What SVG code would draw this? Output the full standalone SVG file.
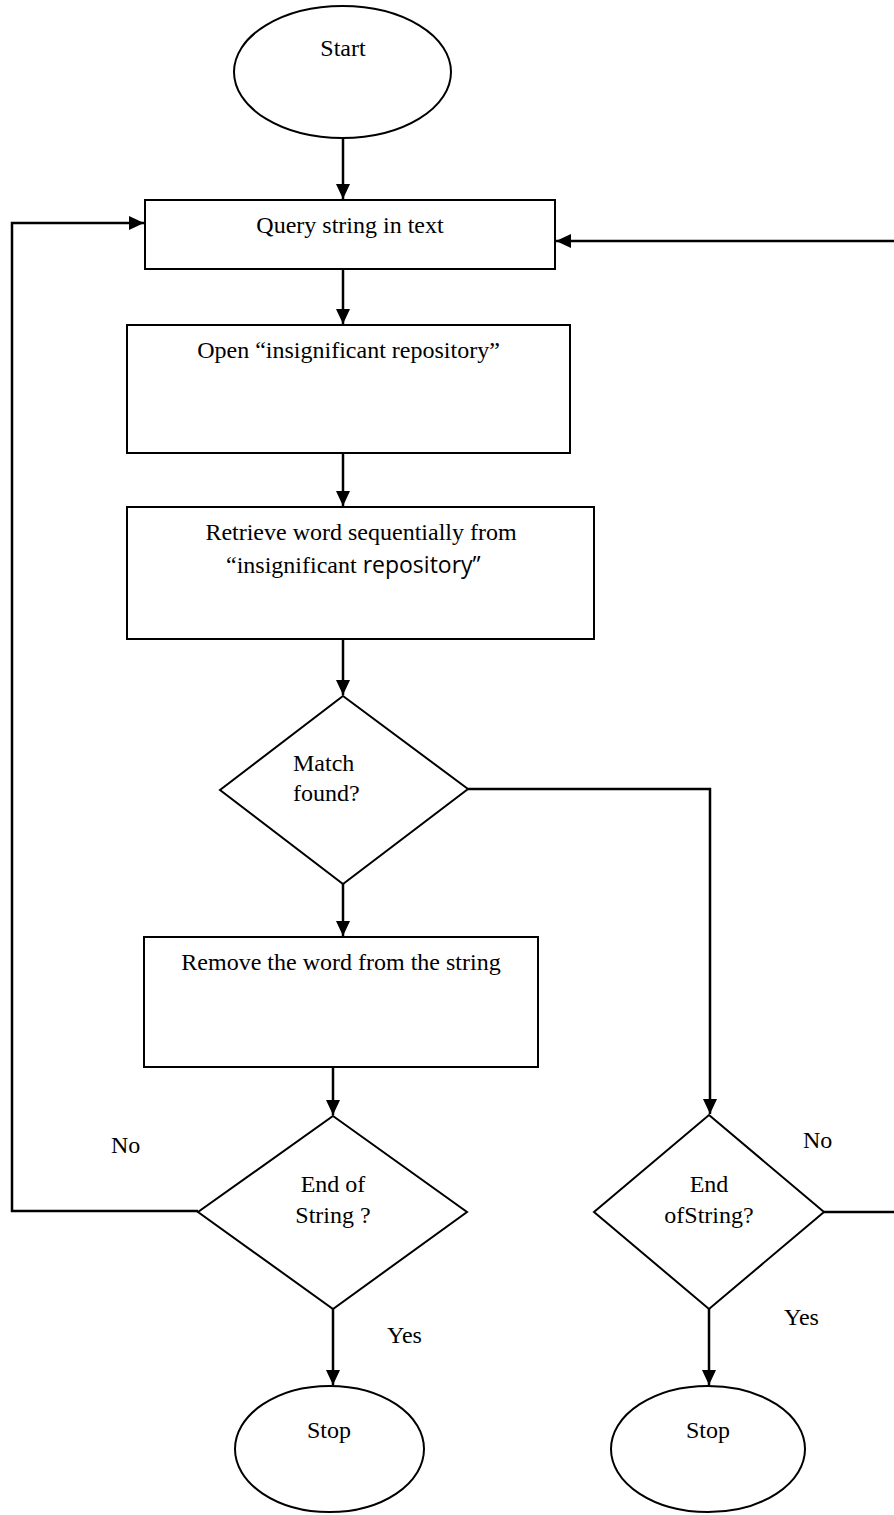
<svg xmlns="http://www.w3.org/2000/svg" width="894" height="1515" viewBox="0 0 894 1515">
<style>
.shape{fill:#fff;stroke:#000;stroke-width:2}
.conn{fill:none;stroke:#000;stroke-width:2.5}
.t{font-family:"Liberation Serif","Times New Roman",serif;font-size:24px;fill:#000}
.c{text-anchor:middle}
.s{font-family:"Open Sans","Liberation Sans",sans-serif;font-size:23px}
</style>
<defs>
<marker id="arr" markerUnits="userSpaceOnUse" markerWidth="16" markerHeight="14" refX="15" refY="7" orient="auto">
<path d="M0,0 L15,7 L0,14 z" fill="#000"/>
</marker>
</defs>
<rect width="894" height="1515" fill="#fff"/>
<g id="connectors">
<path class="conn" d="M343,139 V199" marker-end="url(#arr)"/>
<path class="conn" d="M343,269 V324" marker-end="url(#arr)"/>
<path class="conn" d="M343,453 V506" marker-end="url(#arr)"/>
<path class="conn" d="M343,639 V695" marker-end="url(#arr)"/>
<path class="conn" d="M343,884 V936" marker-end="url(#arr)"/>
<path class="conn" d="M333,1067 V1115" marker-end="url(#arr)"/>
<path class="conn" d="M468,789 H710 V1114" marker-end="url(#arr)"/>
<path class="conn" d="M198,1211 H12 V223 H144" marker-end="url(#arr)"/>
<path class="conn" d="M824,1212 H897 V241 H556" marker-end="url(#arr)"/>
<path class="conn" d="M333,1309 V1385" marker-end="url(#arr)"/>
<path class="conn" d="M709,1309 V1385" marker-end="url(#arr)"/>
</g>
<g id="start">
<ellipse class="shape" cx="342.5" cy="72" rx="108.5" ry="66"/>
<text class="t c" x="343" y="56">Start</text>
</g>
<g id="query">
<rect class="shape" x="145" y="200" width="410" height="69"/>
<text class="t c" x="350" y="233">Query string in text</text>
</g>
<g id="open">
<rect class="shape" x="127" y="325" width="443" height="128"/>
<text class="t c" x="348.5" y="358">Open “insignificant repository”</text>
</g>
<g id="retrieve">
<rect class="shape" x="127" y="507" width="467" height="132"/>
<text class="t c" x="361" y="540">Retrieve word sequentially from</text>
<text class="t" x="226" y="573">“insignificant <tspan class="s">repository”</tspan></text>
</g>
<g id="match">
<polygon class="shape" points="343,696 468,789 343,884 220,790"/>
<text class="t" x="293" y="771">Match</text>
<text class="t" x="293" y="801">found?</text>
</g>
<g id="remove">
<rect class="shape" x="144" y="937" width="394" height="130"/>
<text class="t c" x="341" y="970">Remove the word from the string</text>
</g>
<g id="endofstring1">
<polygon class="shape" points="333,1116 467,1212 333,1309 198,1212"/>
<text class="t c" x="333" y="1192">End of</text>
<text class="t c" x="333" y="1223">String ?</text>
</g>
<g id="endofstring2">
<polygon class="shape" points="709,1115 824,1212 709,1309 594,1212"/>
<text class="t c" x="709" y="1192">End</text>
<text class="t c" x="709" y="1223">ofString?</text>
</g>
<g id="stop1">
<ellipse class="shape" cx="329.5" cy="1449" rx="94.5" ry="63"/>
<text class="t c" x="329" y="1438">Stop</text>
</g>
<g id="stop2">
<ellipse class="shape" cx="708" cy="1449" rx="97" ry="63"/>
<text class="t c" x="708" y="1438">Stop</text>
</g>
<g id="labels">
<text class="t" x="111" y="1153">No</text>
<text class="t" x="803" y="1148">No</text>
<text class="t" x="387" y="1343">Yes</text>
<text class="t" x="784" y="1325">Yes</text>
</g>
</svg>
